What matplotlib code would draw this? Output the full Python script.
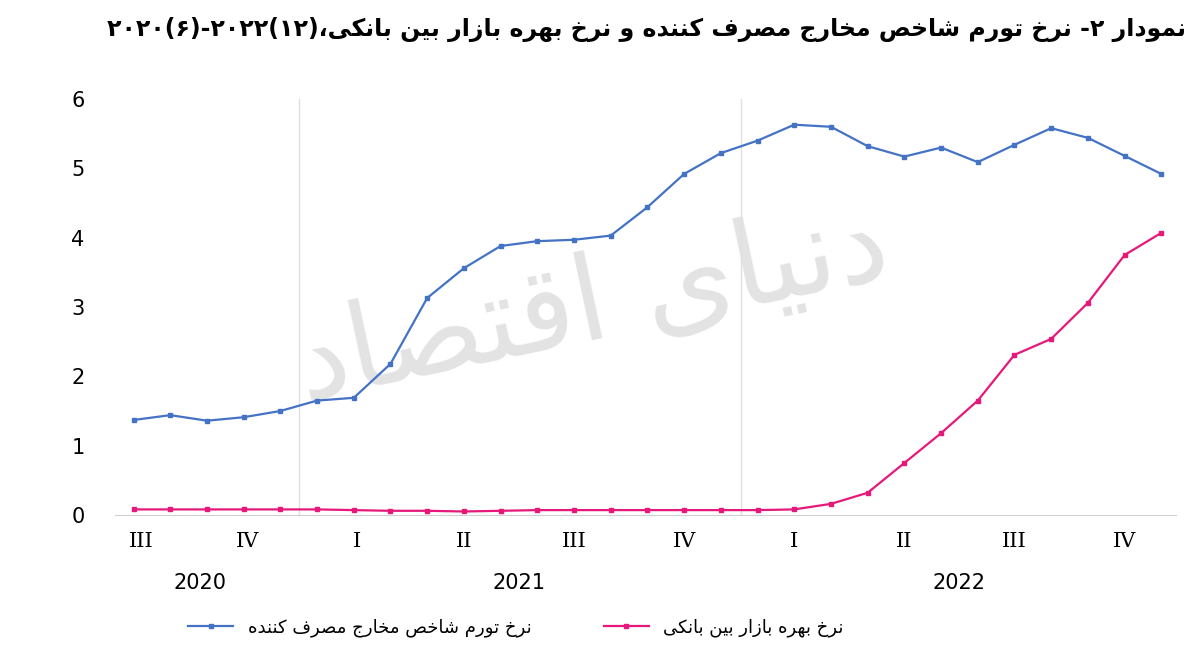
import matplotlib
matplotlib.use('Agg')
import matplotlib.pyplot as plt
import unicodedata

plt.rcParams['font.family'] = ['DejaVu Sans']

# monthly values, mid-2020 to Dec 2022
cpi = [1.37, 1.44, 1.36, 1.41, 1.50, 1.65, 1.69, 2.18, 3.13, 3.56, 3.88, 3.95, 3.97, 4.03,
       4.44, 4.92, 5.22, 5.40, 5.63, 5.60, 5.32, 5.17, 5.30, 5.09, 5.34, 5.58, 5.44, 5.18, 4.92]
interbank = [0.08, 0.08, 0.08, 0.08, 0.08, 0.08, 0.07, 0.06, 0.06, 0.05, 0.06, 0.07, 0.07, 0.07,
             0.07, 0.07, 0.07, 0.07, 0.08, 0.16, 0.32, 0.75, 1.18, 1.65, 2.31, 2.54, 3.06, 3.75, 4.07]
quarters = ['III', 'IV', 'I', 'II', 'III', 'IV', 'I', 'II', 'III', 'IV']
quarter_pos = [0.2, 3.1, 6.1, 9.0, 12.0, 15.0, 18.0, 21.0, 24.0, 27.0]
years = ['2020', '2021', '2022']
year_pos = [1.8, 10.5, 22.5]

NONJOIN = set('اآدذرزژوأإؤة')


def shape(text):
    # crude persian shaping + reversal for matplotlib (no bidi support)
    def is_letter(c):
        return '\u0621' <= c <= '\u06FF' and c.isalpha()
    out = []
    for i, c in enumerate(text):
        if not is_letter(c):
            out.append(c)
            continue
        prev = text[i - 1] if i > 0 else ''
        nxt = text[i + 1] if i + 1 < len(text) else ''
        jp = prev != '' and is_letter(prev) and prev not in NONJOIN
        jn = c not in NONJOIN and nxt != '' and is_letter(nxt)
        form = {(True, True): 'MEDIAL', (True, False): 'FINAL',
                (False, True): 'INITIAL', (False, False): 'ISOLATED'}[(jp, jn)]
        try:
            out.append(unicodedata.lookup(unicodedata.name(c) + ' ' + form + ' FORM'))
        except KeyError:
            out.append(c)
    return ''.join(out)[::-1]


title = '۲۰۲۰(۶)-۲۰۲۲(۱۲)،' + shape('نمودار ۲- نرخ تورم شاخص مخارج مصرف کننده و نرخ بهره بازار بین بانکی')
lab_cpi = shape('نرخ تورم شاخص مخارج مصرف کننده')
lab_ib = shape('نرخ بهره بازار بین بانکی')

x = list(range(len(cpi)))

fig = plt.figure(figsize=(12, 6.56), dpi=100)
ax = fig.add_axes([0.096, 0.215, 0.884, 0.634])

ax.text(0.45, 0.5, shape('دنیای اقتصاد'), transform=ax.transAxes, fontsize=85,
        color='#dcdcdc', rotation=12, ha='center', va='center', zorder=0, alpha=0.8)

ax.plot(x, cpi, color='#4472c4', lw=1.6, marker='s', ms=3.5, label=lab_cpi, clip_on=False, zorder=3)
ax.plot(x, interbank, color='#e6197a', lw=1.6, marker='s', ms=3.5, label=lab_ib, clip_on=False, zorder=3)

ax.set_xlim(-0.5, 28.4)
ax.set_ylim(0, 6)
ax.set_yticks(range(7))
ax.tick_params(axis='y', length=0, labelsize=15, pad=22)
ax.set_xticks([])
for s in ['top', 'right', 'left']:
    ax.spines[s].set_visible(False)
ax.spines['bottom'].set_color('#d0d0d0')
for v in [4.5, 16.55]:
    ax.axvline(v, color='#e0e0e0', lw=1, zorder=1)

for p, q in zip(quarter_pos, quarters):
    ax.text(p, -0.38, q, ha='center', va='center', fontsize=15, family='DejaVu Serif')
for p, yv in zip(year_pos, years):
    ax.text(p, -0.98, yv, ha='center', va='center', fontsize=15)

fig.text(0.988, 0.955, title, ha='right', va='center', fontsize=17, fontweight='bold')
fig.legend(loc='center', bbox_to_anchor=(0.43, 0.043), ncol=2, frameon=False,
           fontsize=13, handlelength=2.5, columnspacing=4)

fig.savefig('out.png', dpi=100)
